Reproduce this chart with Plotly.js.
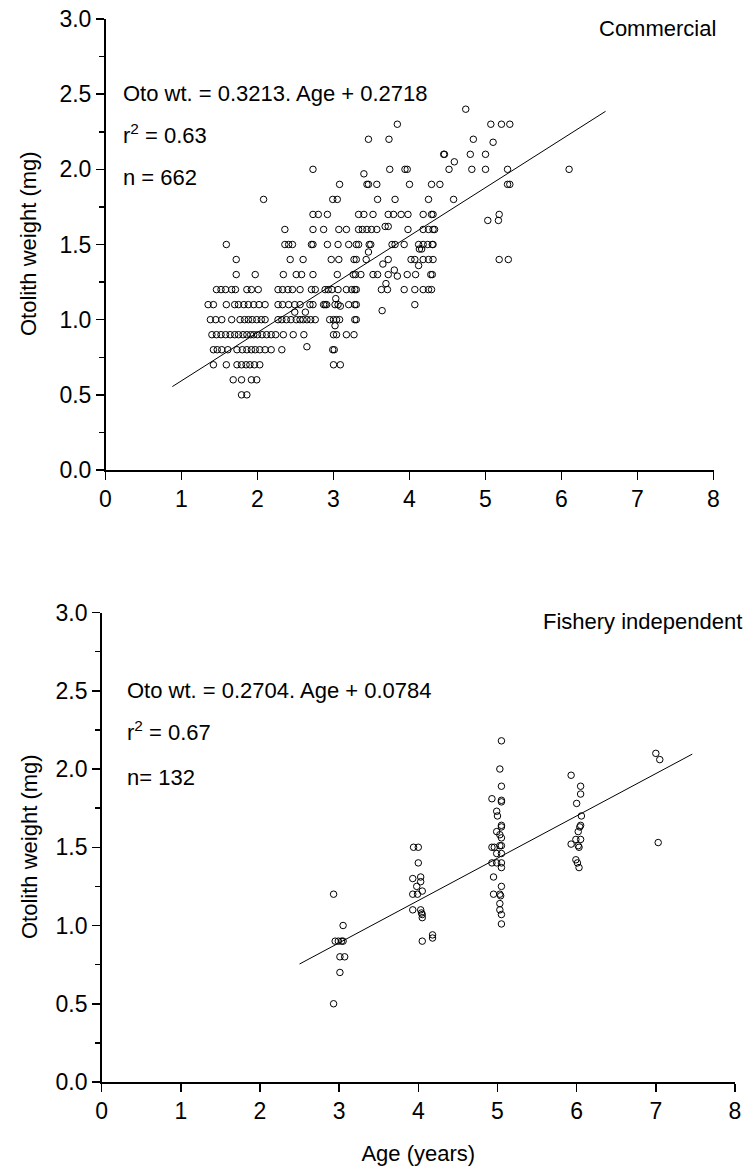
<!DOCTYPE html>
<html>
<head>
<meta charset="utf-8">
<script src="https://cdn.plot.ly/plotly-3.0.1.min.js"></script>
<style>html,body{margin:0;padding:0;background:#fff;}#chart{width:748px;height:1171px;}</style>
</head>
<body>
<div id="chart"></div>
<script>
// ---- Commercial samples: otolith weight levels and the ages read at each level ----
const commLevels = [2.4, 2.3, 2.2, 2.18, 2.1, 2.05, 2.0, 1.97, 1.9, 1.8, 1.7, 1.66, 1.62, 1.6, 1.5, 1.47, 1.45, 1.4, 1.37, 1.36, 1.33, 1.3, 1.29, 1.24, 1.2, 1.14, 1.1, 1.09, 1.06, 1.05, 1.0, 0.96, 0.9, 0.82, 0.8, 0.7, 0.6, 0.5];
const commAgesByLevel = [
  [4.74],
  [3.84, 5.07, 5.21, 5.32],
  [3.46, 3.73, 4.84],
  [5.10],
  [4.45, 4.46, 4.80, 5.00],
  [4.59],
  [2.73, 3.74, 3.94, 3.97, 4.52, 4.82, 5.00, 5.29, 6.10],
  [3.40],
  [3.08, 3.44, 3.46, 3.57, 4.00, 4.29, 4.40, 5.29, 5.32],
  [2.08, 2.99, 3.05, 3.58, 3.81, 4.25, 4.58],
  [2.73, 2.80, 2.92, 3.33, 3.40, 3.52, 3.72, 3.79, 3.89, 3.98, 4.18, 4.29, 4.31, 5.18],
  [5.03, 5.17],
  [3.68, 3.72],
  [2.36, 2.73, 2.87, 3.07, 3.17, 3.33, 3.38, 3.44, 3.50, 3.57, 3.98, 4.18, 4.25, 4.31, 4.33],
  [1.59, 2.36, 2.41, 2.46, 2.71, 2.73, 2.92, 3.06, 3.20, 3.30, 3.33, 3.47, 3.49, 3.77, 3.81, 3.93, 4.12, 4.18, 4.24, 4.30, 4.31],
  [4.13, 4.16],
  [3.46],
  [1.72, 2.43, 2.60, 2.97, 3.07, 3.27, 3.30, 3.43, 3.72, 4.02, 4.07, 4.18, 4.25, 4.31, 5.18, 5.30],
  [3.65],
  [4.12],
  [3.80],
  [1.72, 1.97, 2.34, 2.51, 2.58, 2.73, 3.05, 3.26, 3.29, 3.36, 3.52, 3.58, 3.72, 3.97, 4.08, 4.28, 4.30],
  [3.84],
  [3.69],
  [1.46, 1.52, 1.58, 1.66, 1.71, 1.86, 1.92, 2.01, 2.27, 2.33, 2.40, 2.46, 2.56, 2.71, 2.76, 2.89, 2.93, 2.98, 3.06, 3.17, 3.24, 3.28, 3.30, 3.63, 3.71, 3.93, 4.07, 4.18, 4.25, 4.29],
  [3.03],
  [1.35, 1.42, 1.59, 1.70, 1.75, 1.82, 1.88, 1.95, 2.02, 2.10, 2.27, 2.33, 2.41, 2.49, 2.56, 2.69, 2.73, 2.87, 2.89, 2.91, 3.02, 3.06, 3.20, 3.28, 3.30, 4.07],
  [3.09],
  [3.64],
  [2.49, 2.63],
  [1.38, 1.45, 1.53, 1.66, 1.77, 1.83, 1.88, 1.93, 1.99, 2.05, 2.10, 2.27, 2.32, 2.38, 2.44, 2.51, 2.56, 2.60, 2.65, 2.70, 2.76, 2.95, 3.00, 3.04, 3.08, 3.28, 3.30],
  [3.02],
  [1.40, 1.46, 1.52, 1.58, 1.64, 1.70, 1.75, 1.81, 1.86, 1.91, 1.95, 2.00, 2.06, 2.12, 2.18, 2.24, 2.34, 2.47, 2.61, 3.00, 3.04, 3.17, 3.27],
  [2.65],
  [1.42, 1.47, 1.53, 1.61, 1.73, 1.80, 1.86, 1.92, 1.97, 2.03, 2.10, 2.18, 2.32, 2.99, 3.01],
  [1.42, 1.59, 1.73, 1.79, 1.85, 1.90, 1.96, 2.03, 3.00, 3.09],
  [1.68, 1.79, 1.92, 1.99],
  [1.79, 1.86]
];
const commLineAge = [0.88, 6.58];
const commLineWeight = [0.555, 2.386];

// ---- Fishery independent samples ----
const fiAge = [2.93, 3.05, 2.95, 2.99, 3.03, 3.05, 3.01, 3.07, 3.01, 2.93,
  3.94, 4.00, 4.00, 3.93, 4.03, 4.03, 3.98, 3.93, 3.99, 4.05, 3.93, 4.03, 4.04, 4.05, 4.05, 4.05, 4.18, 4.18,
  5.05, 5.03, 5.05, 4.93, 5.05, 5.05, 4.99, 5.00, 5.05, 5.05, 4.99, 5.03, 5.05, 4.93, 4.96, 5.03, 5.05, 4.99, 5.05, 4.93, 4.99, 5.05, 5.05, 4.95, 5.05, 4.95, 5.03, 5.04, 5.03, 5.03, 5.05, 5.05,
  5.93, 6.05, 6.05, 6.00, 6.06, 6.05, 6.04, 6.02, 5.99, 6.05, 5.93, 6.02, 6.03, 5.99, 6.01, 6.03,
  7.00, 7.05, 7.03];
const fiWeight = [1.20, 1.00, 0.90, 0.90, 0.90, 0.90, 0.80, 0.80, 0.70, 0.50,
  1.50, 1.50, 1.40, 1.30, 1.31, 1.28, 1.25, 1.20, 1.20, 1.22, 1.10, 1.10, 1.08, 1.07, 1.05, 0.90, 0.94, 0.92,
  2.18, 2.00, 1.89, 1.81, 1.80, 1.79, 1.73, 1.70, 1.64, 1.63, 1.60, 1.58, 1.56, 1.50, 1.50, 1.51, 1.51, 1.46, 1.46, 1.40, 1.40, 1.40, 1.37, 1.31, 1.25, 1.20, 1.20, 1.19, 1.14, 1.10, 1.07, 1.01,
  1.96, 1.89, 1.84, 1.78, 1.70, 1.64, 1.63, 1.60, 1.55, 1.55, 1.52, 1.51, 1.50, 1.42, 1.40, 1.37,
  2.10, 2.06, 1.53];
const fiLineAge = [2.50, 7.46];
const fiLineWeight = [0.754, 2.095];

const xTicks = [0, 1, 2, 3, 4, 5, 6, 7, 8];
const yTicks = [0.0, 0.5, 1.0, 1.5, 2.0, 2.5, 3.0];
const yMinorTicks = [0.25, 0.75, 1.25, 1.75, 2.25, 2.75];

// flatten commercial rows
const commAge = [], commWeight = [];
commLevels.forEach((lv, i) => commAgesByLevel[i].forEach(a => { commAge.push(a); commWeight.push(lv); }));

const W = 748, H = 1171;
const px = v => v / W;
const py = v => 1 - v / H;
const FONT = 'Liberation Sans, Arial, sans-serif';
const FS = 22;

const marker = {symbol: 'circle-open', size: 6.5, color: '#000', line: {color: '#000', width: 1}};
const traces = [
  {x: commAge, y: commWeight, type: 'scatter', mode: 'markers', marker: marker, xaxis: 'x', yaxis: 'y', hoverinfo: 'skip'},
  {x: commLineAge, y: commLineWeight, type: 'scatter', mode: 'lines', line: {color: '#000', width: 1}, xaxis: 'x', yaxis: 'y'},
  {x: fiAge, y: fiWeight, type: 'scatter', mode: 'markers', marker: marker, xaxis: 'x2', yaxis: 'y2'},
  {x: fiLineAge, y: fiLineWeight, type: 'scatter', mode: 'lines', line: {color: '#000', width: 1}, xaxis: 'x2', yaxis: 'y2'}
];

function xAxis(domain, anchor, title) {
  const ax = {domain: domain, anchor: anchor, range: [0, 8], tickvals: xTicks, ticktext: xTicks.map(String),
    ticks: 'outside', ticklen: 8, tickwidth: 1.5, tickcolor: '#000',
    showline: true, linecolor: '#000', linewidth: 1.5,
    showgrid: false, zeroline: false, tickfont: {family: FONT, size: FS + 1, color: '#000'}, fixedrange: true};
  if (title) ax.title = {text: title, font: {family: FONT, size: FS, color: '#000'}, standoff: 22};
  return ax;
}
function yAxis(domain, anchor) {
  return {domain: domain, anchor: anchor, range: [0, 3], tickvals: yTicks, ticktext: yTicks.map(v => v.toFixed(1)),
    ticks: 'outside', ticklen: 8, tickwidth: 1.5, tickcolor: '#000',
    minor: {tickvals: yMinorTicks, ticks: 'outside', ticklen: 5, tickwidth: 1.5, tickcolor: '#000'},
    showline: true, linecolor: '#000', linewidth: 1.5, showgrid: false, zeroline: false,
    tickfont: {family: FONT, size: FS + 1, color: '#000'}, fixedrange: true};
}

const annFont = {family: FONT, size: FS, color: '#000'};
function ann(text, x, y, xanchor, angle) {
  return {text: text, x: px(x), y: py(y), xref: 'paper', yref: 'paper', xanchor: xanchor, yanchor: 'middle',
    showarrow: false, font: annFont, textangle: angle || 0};
}

const layout = {
  width: W, height: H, margin: {l: 0, r: 0, t: 0, b: 0}, showlegend: false,
  paper_bgcolor: '#fff', plot_bgcolor: '#fff',
  xaxis: xAxis([px(105.5), px(713.5)], 'y', null),
  yaxis: yAxis([py(470), py(19)], 'x'),
  xaxis2: xAxis([px(101.6), px(735)], 'y2', 'Age (years)'),
  yaxis2: yAxis([py(1082), py(612.5)], 'x2'),
  annotations: [
    ann('Otolith weight (mg)', 29, 244, 'center', -90),
    ann('Otolith weight (mg)', 29, 847, 'center', -90),
    ann('Commercial', 718, 28, 'right'),
    ann('Oto wt. = 0.3213. Age + 0.2718', 121, 94, 'left'),
    ann('r<sup>2</sup> = 0.63', 121, 134, 'left'),
    ann('n = 662', 121, 177, 'left'),
    ann('Fishery independent', 744, 621, 'right'),
    ann('Oto wt. = 0.2704. Age + 0.0784', 125, 690, 'left'),
    ann('r<sup>2</sup> = 0.67', 125, 731, 'left'),
    ann('n= 132', 125, 777, 'left')
  ]
};

Plotly.newPlot('chart', traces, layout, {staticPlot: true, displayModeBar: false});
</script>
</body>
</html>
